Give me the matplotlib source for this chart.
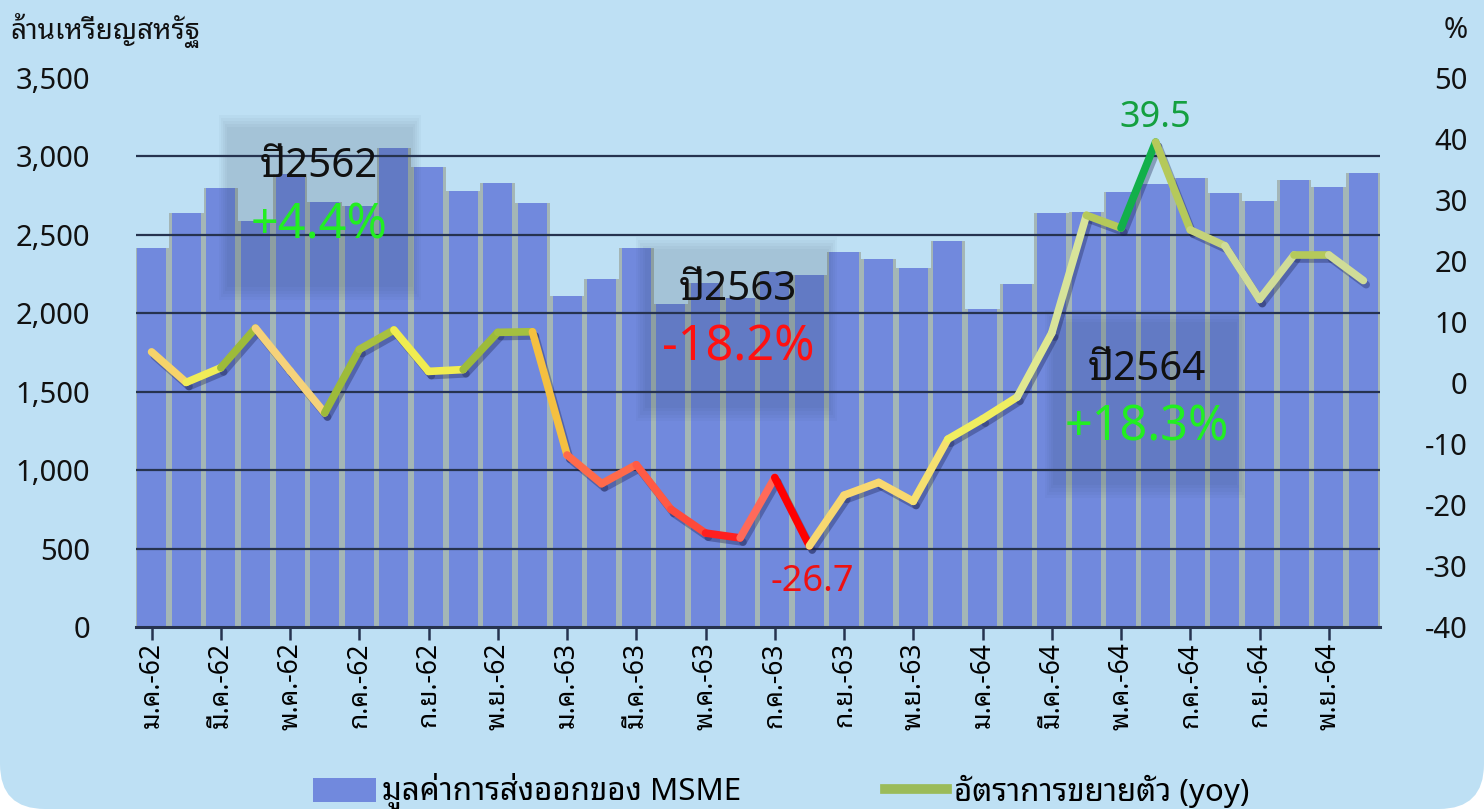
import matplotlib
matplotlib.use("Agg")
import matplotlib.pyplot as plt
from matplotlib import font_manager as fm
from matplotlib.patches import FancyBboxPatch, Rectangle
from matplotlib.lines import Line2D
from matplotlib.collections import LineCollection
from matplotlib.transforms import IdentityTransform
import matplotlib.patheffects as pe
import numpy as np

# ---------------- data ----------------
month_labels = ['ม.ค.-62', 'มี.ค.-62', 'พ.ค.-62', 'ก.ค.-62', 'ก.ย.-62', 'พ.ย.-62',
                'ม.ค.-63', 'มี.ค.-63', 'พ.ค.-63', 'ก.ค.-63', 'ก.ย.-63', 'พ.ย.-63',
                'ม.ค.-64', 'มี.ค.-64', 'พ.ค.-64', 'ก.ค.-64', 'ก.ย.-64', 'พ.ย.-64']
exports = [2417, 2640, 2800, 2590, 2890, 2710, 2685, 3055, 2934, 2781, 2832, 2704,
           2111, 2219, 2417, 2060, 2190, 2100, 2264, 2245, 2390, 2347, 2290, 2462,
           2028, 2187, 2640, 2647, 2774, 2825, 2863, 2768, 2717, 2851, 2806, 2895]
growth = [5.1, 0.1, 2.5, 9.0, 2.0, -4.9, 5.5, 8.7, 1.9, 2.2, 8.3, 8.4,
          -11.8, -16.5, -13.4, -20.7, -24.6, -25.4, -15.5, -26.7, -18.4, -16.3, -19.4, -9.2,
          -5.9, -2.3, 8.2, 27.5, 25.4, 39.5, 25.1, 22.5, 13.7, 21.0, 21.0, 16.8]
year_titles = ['ปี2562', 'ปี2563', 'ปี2564']
year_growth = ['+4.4%', '-18.2%', '+18.3%']
peak_label = '39.5'
trough_label = '-26.7'
legend_labels = ['มูลค่าการส่งออกของ MSME', 'อัตราการขยายตัว (yoy)']

# segment colours of the growth line (style)
seg_colors = ['#f6d36a', '#f0ec58', '#9dbb3a', '#f5d27a', '#f5d27a', '#9dbb3a', '#a8c040',
              '#f0ec50', '#f0ec50', '#9dbb3a', '#a4c040', '#f5c040', '#ff6a4a', '#ff6a4a',
              '#ff5a44', '#ff4a3a', '#ff2020', '#ff6a5a', '#ff0000', '#f8d870', '#f8d870',
              '#f8d870', '#f5e070', '#f0ee60', '#f0ee60', '#e0e890', '#d8e49a', '#b5c95a',
              '#12b04a', '#b5c95a', '#c5d27a', '#d0dc98', '#d0dc98', '#b5c95a', '#d0dc98']

# ---------------- fonts ----------------
available = {f.name for f in fm.fontManager.ttflist}
preferred = ['Noto Sans Thai Looped', 'Loma', 'IBM Plex Sans Thai Looped', 'Noto Sans Thai']
fam = [f for f in preferred if f in available][:1] + ['DejaVu Sans']
plt.rcParams['font.family'] = fam
plt.rcParams['font.weight'] = 'medium'

BG = '#bee0f4'
BAR = '#7189dd'
GRID = '#26334f'

W, H = 1484, 809
fig = plt.figure(figsize=(W / 100, H / 100), dpi=100)
fig.patch.set_facecolor('white')
fig.add_artist(FancyBboxPatch((0, 0), W, H + 200, boxstyle='round,pad=0,rounding_size=45',
                              transform=IdentityTransform(), fc=BG, ec='none', zorder=-10))

ax = fig.add_axes([136 / W, 1 - 627 / H, 1244 / W, 549 / H])
ax.set_facecolor('none')
x = np.arange(len(exports))

ax.bar(x, exports, width=1.0, color='#a4b6b6', zorder=1)
bars = ax.bar(x, exports, width=0.84, color=BAR, zorder=2)
for yv in [500, 1000, 1500, 2000, 2500, 3000]:
    ax.axhline(yv, color=GRID, lw=1.6, zorder=3)

ax.set_xlim(-0.45, 35.48)
ax.set_ylim(0, 3500)
ax.set_yticks([0, 500, 1000, 1500, 2000, 2500, 3000, 3500])
ax.set_yticklabels(['0', '500', '1,000', '1,500', '2,000', '2,500', '3,000', '3,500'])
ax.tick_params(axis='y', length=0, pad=33, labelsize=21, colors='#111111')
ax.set_xticks(np.arange(0, 36, 2))
ax.set_xticklabels(month_labels, rotation=90, fontsize=19)
ax.tick_params(axis='x', length=9, width=1.8, color=GRID, pad=2)
for s in ['top', 'left', 'right']:
    ax.spines[s].set_visible(False)
ax.spines['bottom'].set_color(GRID)
ax.spines['bottom'].set_linewidth(2.2)
ax.spines['bottom'].set_zorder(4)

# translucent year boxes
boxes = [(1.95, 2085, 7.78, 3265), (14.0, 1314, 19.8, 2487), (25.8, 823, 31.6, 2022)]
for (x0, y0, x1, y1) in boxes:
    for k in range(5):
        dx = 0.06 * k
        dy = 20 * k
        ax.add_patch(Rectangle((x0 + dx, y0 + dy), (x1 - x0) - 2 * dx, (y1 - y0) - 2 * dy,
                               fc='#1a2a40', ec='none', alpha=0.032, zorder=2.5))

# year texts
year_pos = [(4.83, 2930, 2560), (16.94, 2150, 1780), (28.75, 1640, 1270)]
gcol = ['#22ee22', '#ff1111', '#22ee22']
for (xc, yt, yg), t, g, c in zip(year_pos, year_titles, year_growth, gcol):
    ax.text(xc, yt, t, ha='center', va='center', fontsize=29, color='#111111', zorder=6)
    ax.text(xc, yg, g, ha='center', va='center', fontsize=35, color=c, zorder=6)

# growth line on right axis
ax2 = ax.twinx()
ax2.set_ylim(-40, 50)
ax2.set_yticks(np.arange(-40, 51, 10))
ax2.tick_params(axis='y', length=0, pad=63, labelsize=21, colors='#111111')
for lab in ax2.get_yticklabels():
    lab.set_ha('right')
for s in ax2.spines.values():
    s.set_visible(False)
pts = np.column_stack([x, growth])
segs = [pts[i:i + 2] for i in range(len(pts) - 1)]
lc = LineCollection(segs, colors=seg_colors, linewidths=5.5, capstyle='round', joinstyle='round',
                    zorder=5)
lc.set_path_effects([pe.SimpleLineShadow(offset=(2, -3), shadow_color='#1a2050', alpha=0.35),
                     pe.Normal()])
ax2.add_collection(lc)

ipk = int(np.argmax(growth))
itr = int(np.argmin(growth))
ax2.annotate(peak_label, (x[ipk], growth[ipk]), xytext=(0, 17), textcoords='offset points',
             ha='center', va='center', fontsize=26, color='#14a040')
ax2.annotate(trough_label, (x[itr], growth[itr]), xytext=(2, -26), textcoords='offset points',
             ha='center', va='center', fontsize=26, color='#ee1111')

fig.text(10 / W, 1 - 30 / H, 'ล้านเหรียญสหรัฐ', ha='left', va='center', fontsize=20,
         fontweight='bold', color='#111111')
fig.text(1468 / W, 1 - 30 / H, '%', ha='right', va='center', fontsize=21, color='#111111')

handles = [Rectangle((0, 0), 1, 1, fc=BAR, ec='none'),
           Line2D([0], [0], color='#9bbb59', lw=7)]
fig.legend(handles, legend_labels, loc='center', bbox_to_anchor=(781 / W, 1 - 792 / H),
           ncol=2, frameon=False, fontsize=22.5, handlelength=2.0, handleheight=0.8,
           handletextpad=0.2, columnspacing=4.6)

fig.savefig('out.png', dpi=100, facecolor=fig.get_facecolor())
